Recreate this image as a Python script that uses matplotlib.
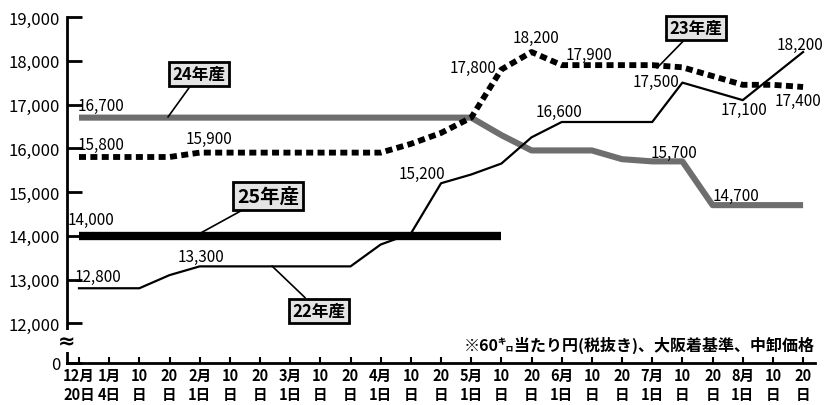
import matplotlib
matplotlib.use("Agg")
import matplotlib.pyplot as plt

plt.rcParams['font.family'] = ['Noto Sans CJK JP', 'DejaVu Sans']

# x categories (date of each price)
dates = ['12月\n20日', '1月\n4日', '10\n日', '20\n日', '2月\n1日', '10\n日', '20\n日',
         '3月\n1日', '10\n日', '20\n日', '4月\n1日', '10\n日', '20\n日', '5月\n1日',
         '10\n日', '20\n日', '6月\n1日', '10\n日', '20\n日', '7月\n1日', '10\n日',
         '20\n日', '8月\n1日', '10\n日', '20\n日']

# prices (yen per 60kg)
s25 = [14000, 14000, 14000, 14000, 14000, 14000, 14000, 14000, 14000, 14000,
       14000, 14000, 14000, 14000, 14000]
s24 = [16700, 16700, 16700, 16700, 16700, 16700, 16700, 16700, 16700, 16700,
       16700, 16700, 16700, 16700, 16300, 15950, 15950, 15950, 15750, 15700,
       15700, 14700, 14700, 14700, 14700]
s23 = [15800, 15800, 15800, 15800, 15900, 15900, 15900, 15900, 15900, 15900,
       15900, 16100, 16350, 16700, 17800, 18200, 17900, 17900, 17900, 17900,
       17850, 17650, 17450, 17450, 17400]
s22 = [12800, 12800, 12800, 13100, 13300, 13300, 13300, 13300, 13300, 13300,
       13800, 14050, 15200, 15400, 15650, 16250, 16600, 16600, 16600, 16600,
       17500, 17300, 17100, 17650, 18200]

yticks = [12000, 13000, 14000, 15000, 16000, 17000, 18000, 19000]
ytick_labels = ['12,000', '13,000', '14,000', '15,000', '16,000', '17,000', '18,000', '19,000']
note = '※60㌔当たり円(税抜き)、大阪着基準、中卸価格'

# figure geometry (pixels of the 825x406 picture)
W, H = 825, 406
X0PIX, DXPIX = 79, 30.17       # pixel of first category, pixels per category
Y19PIX, YSCALE = 18, 0.04375   # pixel of 19000, pixels per yen


def px2x(px):
    return (px - X0PIX) / DXPIX


def py2y(py):
    return 19000 - (py - Y19PIX) / YSCALE


fig = plt.figure(figsize=(W / 100, H / 100), dpi=100)
ax = fig.add_axes([67 / W, 1 - 364 / H, 748 / W, 364 / H])

x = list(range(len(dates)))
ybot = py2y(364)

ax.plot(x[:len(s22)], s22, color='black', lw=1.6, zorder=3)
ax.plot(x[:len(s24)], s24, color='#6e6e6e', lw=4.4, solid_capstyle='butt', zorder=2)
ax.plot(x[:len(s23)], s23, color='black', lw=4.2, linestyle=(0, (1.2, 0.75)),
        dash_capstyle='butt', zorder=4)
ax.plot(x[:len(s25)], s25, color='black', lw=6, solid_capstyle='butt', zorder=5)

ax.set_xlim(px2x(67), px2x(815))
ax.set_ylim(ybot, py2y(0))

for s in ['top', 'right']:
    ax.spines[s].set_visible(False)
ax.spines['left'].set_linewidth(2)
ax.spines['bottom'].set_linewidth(2)
ax.spines['left'].set_bounds(ybot, 19000)

ax.set_yticks([ybot] + yticks)
ax.set_yticklabels(['0'] + ytick_labels)
ax.tick_params(axis='y', direction='in', length=11, width=2, pad=5, labelsize=12)
ax.set_xticks(x)
ax.set_xticklabels(dates, linespacing=1.2, fontweight='bold')
ax.tick_params(axis='x', direction='in', length=4, width=1.5, pad=3, labelsize=10.5)

# axis break mark
ax.text(px2x(67), py2y(342), '≈', ha='center', va='center', fontsize=15,
        fontweight='bold', family=['DejaVu Sans'], clip_on=False, zorder=10,
        bbox=dict(boxstyle='square,pad=0.05', fc='white', ec='none'))

# value labels: (series, index, dx px, dy px, ha)
labels = [
    (s24, 0, -1, 12, 'left'), (s23, 0, -1, 13, 'left'), (s23, 4, 9, 14, 'center'),
    (s25, 0, -11, 16, 'left'), (s22, 0, -4, 12, 'left'), (s22, 4, 1, 10, 'center'),
    (s22, 12, 4, 10, 'right'), (s22, 16, -3, 11, 'center'), (s23, 14, -5, 2, 'right'),
    (s23, 15, 4, 15, 'center'), (s23, 16, 27, 11, 'center'), (s22, 20, -3, 1, 'right'),
    (s22, 22, 1, -9, 'center'), (s22, 24, -26, 8, 'left'), (s23, 24, -28, -13, 'left'),
    (s24, 19, 22, 9, 'center'), (s24, 21, 0, 10, 'left'),
]
for ser, i, dx, dy, ha in labels:
    ax.annotate(f'{ser[i]:,}', (i, ser[i]), xytext=(dx, dy), textcoords='offset pixels',
                ha=ha, va='center', fontsize=11, zorder=6, annotation_clip=False)

# series name boxes with leader lines: (text, point px, box centre px, size)
boxes = [
    ('24年産', (168, 118), (199, 75), 12),
    ('23年産', (657, 69), (696, 29), 12),
    ('25年産', (197, 236), (268, 197), 14),
    ('22年産', (272, 267), (319, 312), 12),
]
for txt, pt, ctr, fs in boxes:
    ax.annotate(txt, (px2x(pt[0]), py2y(pt[1])), xytext=(px2x(ctr[0]), py2y(ctr[1])),
                ha='center', va='center', fontsize=fs, fontweight='bold', zorder=8,
                bbox=dict(boxstyle='square,pad=0.2', fc='#e4e4e4', ec='black', lw=2),
                arrowprops=dict(arrowstyle='-', color='black', lw=1.2,
                                shrinkA=0, shrinkB=0))

ax.text(px2x(815), py2y(345), note, ha='right', va='center', fontsize=11.5,
        fontweight='bold')

fig.savefig('out.png', dpi=100)
